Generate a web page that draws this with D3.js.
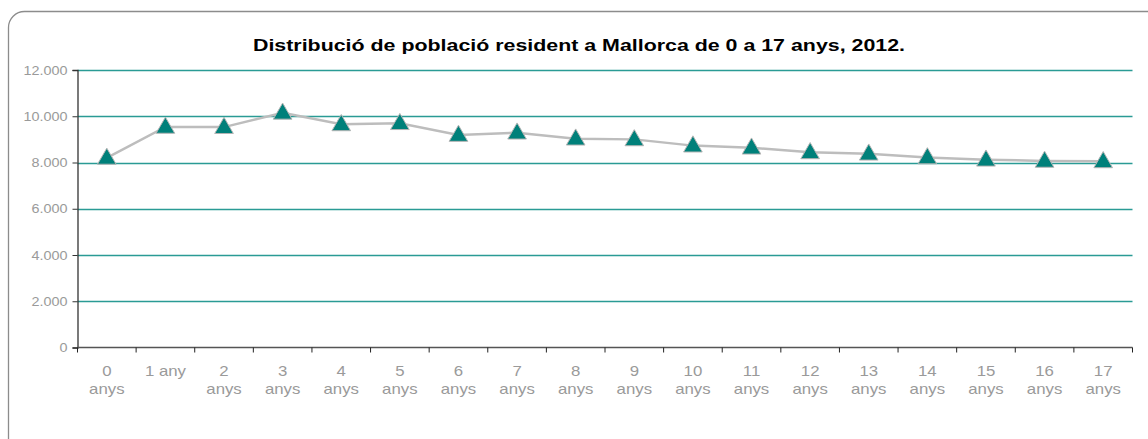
<!DOCTYPE html>
<html>
<head>
<meta charset="utf-8">
<script src="https://cdn.jsdelivr.net/npm/d3@7"></script>
<style>
  body { margin: 0; background: #fff; }
  text { font-family: "Liberation Sans", Arial, sans-serif; }
</style>
</head>
<body>
<svg id="chart" width="1148" height="439"></svg>
<script>
// dades: població per edat
let categories = ["0 anys", "1 any", "2 anys", "3 anys", "4 anys", "5 anys", "6 anys", "7 anys", "8 anys",
  "9 anys", "10 anys", "11 anys", "12 anys", "13 anys", "14 anys", "15 anys", "16 anys", "17 anys"];
let values = [8200, 9540, 9530, 10150, 9650, 9700, 9190, 9290, 9030, 9000, 8730, 8640, 8440, 8380, 8220, 8120, 8070, 8050];
let yTicks = [0, 2000, 4000, 6000, 8000, 10000, 12000];
let title = "Distribució de població resident a Mallorca de 0 a 17 anys, 2012.";

let svg = d3.select("#chart");
let plotLeft = 77.5, plotRight = 1132.5, plotTop = 70, plotBottom = 347.5;
let labelGray = "#9a9a9a";
let stretch = 1.2; // el gràfic original està estirat en horitzontal

// marc arrodonit
svg.append("rect")
  .attr("x", 8.5).attr("y", 11.5)
  .attr("width", 1170).attr("height", 450)
  .attr("rx", 16)
  .attr("fill", "none")
  .attr("stroke", "#8c8c8c")
  .attr("stroke-width", 1.3);

svg.append("text")
  .attr("x", 579).attr("y", 51)
  .attr("text-anchor", "middle")
  .attr("font-size", 17)
  .attr("font-weight", "bold")
  .attr("textLength", 652)
  .attr("lengthAdjust", "spacingAndGlyphs")
  .attr("fill", "#000")
  .text(title);

let x = d3.scaleBand().domain(categories).range([plotLeft, plotRight]);
let y = d3.scaleLinear().domain([0, 12000]).range([plotBottom, plotTop]);

// graella
svg.append("g").selectAll("line")
  .data(yTicks.filter(d => d > 0))
  .join("line")
  .attr("x1", plotLeft).attr("x2", plotRight)
  .attr("y1", d => Math.round(y(d)) + 0.5).attr("y2", d => Math.round(y(d)) + 0.5)
  .attr("stroke", "#2a9b95")
  .attr("stroke-width", 1.3);

// eix Y
let yAxis = svg.append("g")
  .attr("transform", `translate(${plotLeft},0)`)
  .call(d3.axisLeft(y).tickValues(yTicks).tickSize(5).tickFormat(""));
yAxis.select(".domain").attr("stroke", "#333").attr("stroke-width", 1.3);
yAxis.selectAll(".tick line").attr("stroke", "#333");

svg.append("g").selectAll("text")
  .data(yTicks)
  .join("text")
  .attr("transform", d => `translate(${plotLeft - 10},${y(d) + 4.5}) scale(${stretch},1)`)
  .attr("text-anchor", "end")
  .attr("font-size", 12)
  .attr("fill", labelGray)
  .text(d => d3.format(",")(d).replace(/,/g, "."));

// eix X
let xAxis = svg.append("g").attr("transform", `translate(0,${plotBottom})`);
xAxis.append("line")
  .attr("x1", plotLeft).attr("x2", plotRight)
  .attr("stroke", "#555").attr("stroke-width", 1.3);
let bounds = categories.map(c => x(c)).concat([plotRight]);
xAxis.selectAll(".tk").data(bounds).join("line")
  .attr("class", "tk")
  .attr("x1", d => d).attr("x2", d => d)
  .attr("y1", 0).attr("y2", 5)
  .attr("stroke", "#222");
xAxis.selectAll(".lbl").data(categories).join("text")
  .attr("class", "lbl")
  .attr("text-anchor", "middle")
  .attr("font-size", 14)
  .attr("fill", labelGray)
  .attr("transform", d => `translate(${x(d) + x.bandwidth() / 2},0) scale(${stretch},1)`)
  .each(function(d) {
    let parts = d.split(" ");
    let t = d3.select(this);
    if (d === "1 any") {
      t.append("tspan").attr("x", 0).attr("y", 28.5).text(d);
    } else {
      t.append("tspan").attr("x", 0).attr("y", 28.5).text(parts[0]);
      t.append("tspan").attr("x", 0).attr("y", 46.5).text(parts[1]);
    }
  });

// línia i marcadors
let line = d3.line()
  .x((d, i) => x(categories[i]) + x.bandwidth() / 2)
  .y(d => y(d));

svg.append("path")
  .datum(values)
  .attr("d", line)
  .attr("fill", "none")
  .attr("stroke", "#bdbdbd")
  .attr("stroke-width", 2.5);

svg.append("g").selectAll("path")
  .data(values)
  .join("path")
  .attr("transform", (d, i) => `translate(${x(categories[i]) + x.bandwidth() / 2},${y(d) + 1})`)
  .attr("d", d3.symbol().type(d3.symbolTriangle).size(150))
  .attr("fill", "#00807a")
  .attr("stroke", "#b5b5b5")
  .attr("stroke-width", 1);
</script>
</body>
</html>
